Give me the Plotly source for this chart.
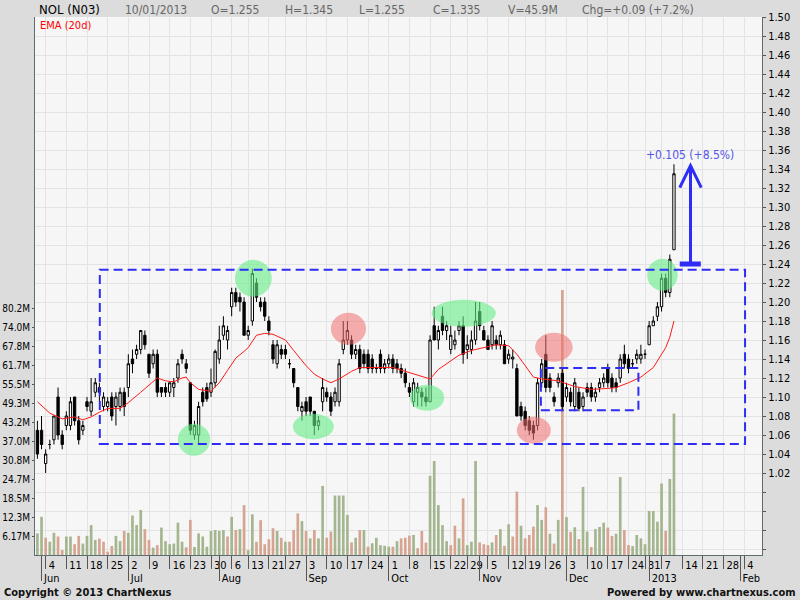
import pandas as pd
import plotly.graph_objects as go

# ---------------- data ----------------
ticker = "NOL (N03)"
first_day = "2012-05-31"
axis_end = "2013-02-08"
holidays = ["2012-08-09", "2012-08-20", "2012-10-26", "2012-11-13",
            "2012-12-25", "2013-01-01"]

opens = [
    1.065, 1.065, 1.030, 1.050, 1.055, 1.100, 1.060, 1.070, 1.070, 1.100,
    1.075, 1.065, 1.095, 1.085, 1.105, 1.110, 1.090, 1.090, 1.100, 1.090,
    1.090, 1.105, 1.110, 1.140, 1.145, 1.150, 1.165, 1.145, 1.135, 1.145,
    1.110, 1.110, 1.105, 1.110, 1.120, 1.145, 1.135, 1.115, 1.060, 1.060,
    1.105, 1.110, 1.105, 1.115, 1.140, 1.165, 1.160, 1.195, 1.210, 1.205,
    1.200, 1.165, 1.180, 1.220, 1.200, 1.200, 1.180, 1.155, 1.135, 1.150,
    1.150, 1.135, 1.130, 1.110, 1.085, 1.095, 1.100, 1.085, 1.070, 1.095,
    1.105, 1.100, 1.095, 1.095, 1.150, 1.160, 1.160, 1.145, 1.150, 1.145,
    1.145, 1.140, 1.130, 1.145, 1.130, 1.135, 1.140, 1.135, 1.130, 1.125,
    1.110, 1.095, 1.105, 1.105, 1.100, 1.095, 1.175, 1.160, 1.185, 1.170,
    1.150, 1.155, 1.170, 1.175, 1.150, 1.150, 1.160, 1.190, 1.170, 1.160,
    1.155, 1.160, 1.155, 1.155, 1.140, 1.140, 1.130, 1.090, 1.085, 1.075,
    1.070, 1.070, 1.115, 1.145, 1.120, 1.100, 1.115, 1.125, 1.100, 1.105,
    1.090, 1.105, 1.090, 1.110, 1.110, 1.100, 1.110, 1.115, 1.130, 1.120,
    1.115, 1.120, 1.145, 1.140, 1.135, 1.140, 1.140, 1.145, 1.155, 1.175,
    1.185, 1.195, 1.225, 1.210, 1.255,
]
highs = [
    1.075, 1.080, 1.045, 1.055, 1.080, 1.110, 1.065, 1.085, 1.100, 1.100,
    1.080, 1.075, 1.100, 1.120, 1.120, 1.115, 1.105, 1.100, 1.105, 1.105,
    1.110, 1.110, 1.145, 1.150, 1.155, 1.170, 1.170, 1.145, 1.150, 1.150,
    1.110, 1.115, 1.115, 1.120, 1.140, 1.150, 1.140, 1.115, 1.075, 1.095,
    1.110, 1.115, 1.130, 1.150, 1.175, 1.185, 1.175, 1.215, 1.215, 1.210,
    1.205, 1.175, 1.235, 1.225, 1.205, 1.205, 1.185, 1.160, 1.160, 1.155,
    1.155, 1.140, 1.130, 1.110, 1.095, 1.100, 1.100, 1.085, 1.080, 1.120,
    1.110, 1.105, 1.110, 1.140, 1.180, 1.180, 1.165, 1.155, 1.155, 1.150,
    1.150, 1.145, 1.135, 1.150, 1.140, 1.145, 1.145, 1.140, 1.135, 1.130,
    1.115, 1.120, 1.115, 1.110, 1.110, 1.165, 1.195, 1.175, 1.195, 1.180,
    1.175, 1.170, 1.180, 1.185, 1.165, 1.170, 1.200, 1.200, 1.175, 1.165,
    1.180, 1.165, 1.170, 1.160, 1.150, 1.150, 1.135, 1.095, 1.090, 1.080,
    1.075, 1.120, 1.140, 1.165, 1.125, 1.105, 1.125, 1.130, 1.115, 1.110,
    1.120, 1.110, 1.105, 1.115, 1.115, 1.110, 1.120, 1.125, 1.135, 1.125,
    1.120, 1.145, 1.155, 1.145, 1.140, 1.150, 1.155, 1.150, 1.180, 1.185,
    1.200, 1.230, 1.230, 1.250, 1.345,
]
lows = [
    1.035, 1.045, 1.020, 1.045, 1.050, 1.055, 1.045, 1.065, 1.065, 1.070,
    1.050, 1.060, 1.085, 1.080, 1.100, 1.095, 1.085, 1.085, 1.075, 1.070,
    1.085, 1.080, 1.100, 1.125, 1.140, 1.145, 1.150, 1.120, 1.130, 1.100,
    1.100, 1.100, 1.100, 1.100, 1.115, 1.135, 1.125, 1.060, 1.055, 1.050,
    1.090, 1.095, 1.100, 1.110, 1.135, 1.160, 1.150, 1.185, 1.195, 1.190,
    1.165, 1.160, 1.175, 1.200, 1.190, 1.180, 1.165, 1.135, 1.130, 1.140,
    1.140, 1.130, 1.110, 1.085, 1.075, 1.080, 1.080, 1.060, 1.065, 1.085,
    1.095, 1.080, 1.090, 1.090, 1.145, 1.155, 1.140, 1.140, 1.125, 1.130,
    1.125, 1.125, 1.125, 1.125, 1.125, 1.130, 1.125, 1.125, 1.120, 1.110,
    1.100, 1.090, 1.090, 1.090, 1.090, 1.095, 1.160, 1.150, 1.165, 1.160,
    1.145, 1.150, 1.165, 1.135, 1.140, 1.145, 1.155, 1.170, 1.160, 1.150,
    1.150, 1.150, 1.150, 1.135, 1.135, 1.130, 1.080, 1.075, 1.065, 1.060,
    1.055, 1.065, 1.110, 1.105, 1.105, 1.090, 1.110, 1.085, 1.095, 1.090,
    1.085, 1.085, 1.085, 1.100, 1.095, 1.095, 1.105, 1.110, 1.110, 1.105,
    1.105, 1.115, 1.130, 1.125, 1.130, 1.135, 1.135, 1.140, 1.155, 1.175,
    1.180, 1.190, 1.205, 1.205, 1.255,
]
closes = [
    1.040, 1.050, 1.040, 1.050, 1.080, 1.060, 1.050, 1.080, 1.095, 1.075,
    1.055, 1.070, 1.090, 1.095, 1.115, 1.105, 1.100, 1.095, 1.080, 1.100,
    1.105, 1.090, 1.135, 1.135, 1.150, 1.170, 1.155, 1.125, 1.145, 1.105,
    1.105, 1.105, 1.115, 1.115, 1.135, 1.140, 1.130, 1.065, 1.070, 1.090,
    1.095, 1.098, 1.115, 1.148, 1.160, 1.175, 1.170, 1.210, 1.200, 1.200,
    1.165, 1.170, 1.230, 1.205, 1.195, 1.185, 1.170, 1.140, 1.155, 1.145,
    1.145, 1.135, 1.115, 1.090, 1.090, 1.085, 1.085, 1.070, 1.075, 1.110,
    1.100, 1.085, 1.105, 1.135, 1.160, 1.170, 1.145, 1.150, 1.130, 1.135,
    1.130, 1.130, 1.130, 1.130, 1.135, 1.140, 1.130, 1.130, 1.125, 1.115,
    1.105, 1.115, 1.110, 1.100, 1.095, 1.160, 1.160, 1.170, 1.170, 1.175,
    1.165, 1.160, 1.175, 1.145, 1.155, 1.160, 1.180, 1.175, 1.160, 1.150,
    1.175, 1.155, 1.165, 1.135, 1.145, 1.142, 1.080, 1.080, 1.070, 1.065,
    1.062, 1.115, 1.135, 1.110, 1.110, 1.095, 1.120, 1.090, 1.110, 1.095,
    1.115, 1.088, 1.100, 1.105, 1.100, 1.105, 1.115, 1.120, 1.115, 1.110,
    1.110, 1.140, 1.135, 1.130, 1.135, 1.145, 1.145, 1.145, 1.175, 1.180,
    1.195, 1.225, 1.210, 1.245, 1.335,
]
volumes_m = [
    7.0, 12.4, 5.6, 4.3, 7.2, 6.0, 1.6, 6.0, 6.0, 3.5,
    6.2, 3.7, 6.2, 9.7, 4.9, 5.3, 4.3, 1.1, 2.9, 6.2,
    4.5, 7.8, 7.2, 12.8, 9.7, 14.6, 8.4, 4.9, 2.4, 3.2,
    8.9, 4.5, 3.5, 3.7, 10.5, 4.3, 2.5, 11.4, 2.6, 7.0,
    6.0, 2.7, 7.8, 8.1, 7.8, 8.1, 6.0, 12.4, 8.1, 8.4,
    16.2, 1.6, 13.2, 4.3, 11.3, 3.5, 5.1, 8.7, 7.8, 5.6,
    4.3, 4.3, 8.1, 13.5, 11.0, 7.8, 5.4, 8.1, 5.4, 22.4,
    5.6, 7.6, 19.3, 19.3, 19.3, 13.0, 4.1, 5.6, 8.1, 8.1,
    2.7, 3.8, 5.6, 3.2, 3.0, 2.7, 2.7, 4.5, 5.4, 5.6,
    6.3, 6.5, 2.2, 7.8, 4.0, 25.7, 30.5, 16.2, 9.7, 4.5,
    3.2, 9.5, 5.4, 18.4, 3.2, 4.3, 30.5, 4.1, 3.5, 3.2,
    4.1, 6.5, 8.4, 3.0, 10.0, 6.0, 20.6, 9.5, 5.4, 6.5,
    9.2, 16.2, 11.4, 15.5, 6.9, 3.7, 11.4, 86.0, 12.3, 7.5,
    9.0, 5.2, 22.1, 7.6, 2.6, 8.4, 9.1, 10.5, 8.9, 6.2,
    6.9, 25.3, 8.1, 3.2, 2.9, 6.5, 5.4, 3.5, 14.3, 14.3,
    10.8, 23.2, 7.8, 24.7, 45.9,
]

# EMA(20) at these trading-day positions
ema_day = [0, 3, 6, 9, 11, 13, 15, 17, 20, 22,
           25, 27, 29, 31, 33, 35, 36, 37, 39, 42,
           44, 46, 48, 50, 51, 53, 55, 57, 60, 62,
           65, 67, 69, 71, 73, 76, 78, 82, 86, 89,
           92, 95, 97, 100, 102, 105, 108, 111, 114, 116,
           118, 120, 122, 126, 130, 134, 138, 140, 143, 146,
           149, 151, 152, 153, 154]
ema_val = [1.095, 1.083, 1.077, 1.079, 1.076, 1.079, 1.084, 1.088, 1.088, 1.094,
           1.105, 1.112, 1.120, 1.117, 1.116, 1.120, 1.121, 1.115, 1.108, 1.106,
           1.115, 1.128, 1.141, 1.148, 1.152, 1.165, 1.167, 1.166, 1.160, 1.149,
           1.133, 1.124, 1.119, 1.115, 1.119, 1.127, 1.131, 1.131, 1.131, 1.127,
           1.123, 1.119, 1.129, 1.138, 1.144, 1.149, 1.152, 1.155, 1.154, 1.145,
           1.133, 1.121, 1.119, 1.117, 1.111, 1.108, 1.109, 1.110, 1.115, 1.121,
           1.131, 1.145, 1.152, 1.163, 1.180]

breakout_level = 1.24

# ---------------- calendar ----------------
days = pd.bdate_range(first_day, axis_end)
days = days[~days.isin(pd.to_datetime(holidays))]
n = len(closes)
xs = list(range(n))

pos = pd.Series(range(len(days)), index=days)
wk = pos.groupby(days.to_period("W")).first()
week_idx = [int(i) for i in wk.values[1:]]          # first (partial) week has no label
week_txt = [str(days[i].day) for i in week_idx]

mo = pos.groupby(days.to_period("M")).first()
month_idx = [int(i) for i in mo.values[1:]]         # data starts on the last days of May
month_txt = [str(days[i].year) if days[i].month == 1 else days[i].strftime("%b")
             for i in month_idx]

# ---------------- styling ----------------
FONT = "DejaVu Sans Condensed, Liberation Sans Narrow, DejaVu Sans, sans-serif"
PL, PR, PT, PB = 35, 762, 17, 555
X_RANGE = [-0.58, 175.3]
P_RANGE = [1.50 - (PB - PT) / 950.0, 1.50]
VOL_STEP = 74.0 / 12
V_RANGE = [0, VOL_STEP * (PB - PT) / 19.0]
BLUE = "rgb(45,45,245)"


def px(x):
    return (x - PL) / (PR - PL)


def py(y):
    return (PB - y) / (PB - PT)


vol_colors = ["#a4b690"] + ["#a4b690" if closes[i] >= closes[i - 1] else "#d5a592"
                            for i in range(1, n)]

fig = go.Figure()

fig.add_trace(go.Bar(
    x=xs, y=volumes_m, marker_color=vol_colors,
    marker_line_width=0, width=0.65, xaxis="x", yaxis="y", hoverinfo="skip"
))

fig.add_trace(go.Candlestick(
    x=xs, open=opens, high=highs, low=lows, close=closes,
    xaxis="x", yaxis="y2",
    increasing=dict(fillcolor="white", line=dict(color="black", width=1)),
    decreasing=dict(fillcolor="black", line=dict(color="black", width=1)),
    whiskerwidth=0, hoverinfo="skip"
))

fig.add_trace(go.Scatter(
    x=ema_day, y=ema_val, mode="lines", line=dict(color="#ff1a1a", width=1),
    xaxis="x", yaxis="y2", hoverinfo="skip"
))

# empty trace so the month axis gets drawn
fig.add_trace(go.Scatter(x=[None], y=[None], xaxis="x2", yaxis="y2",
                         showlegend=False, hoverinfo="skip"))

# ---------------- shapes ----------------
shapes = []
green = "rgba(100,238,135,0.6)"
red = "rgba(242,110,110,0.55)"
for x0, x1, y0, y1, c in [
    (34.0, 41.8, 1.0382, 1.0718, green),
    (47.8, 56.7, 1.2056, 1.2445, green),
    (61.8, 71.7, 1.0555, 1.0824, green),
    (71.0, 79.5, 1.1550, 1.1887, red),
    (90.1, 98.4, 1.0855, 1.1129, green),
    (95.4, 110.9, 1.1740, 1.2024, green),
    (120.4, 129.5, 1.1371, 1.1677, red),
    (116.0, 124.2, 1.0508, 1.0792, red),
    (147.5, 154.9, 1.2119, 1.2455, green),
]:
    shapes.append(dict(type="circle", xref="x", yref="y2", x0=x0, x1=x1, y0=y0, y1=y1,
                       fillcolor=c, line=dict(width=0), layer="above"))

for x0, x1, y0, y1 in [(15.1, 171.2, 1.0505, 1.234), (121.8, 145.4, 1.0860, 1.1305)]:
    shapes.append(dict(type="rect", xref="x", yref="y2", x0=x0, x1=x1, y0=y0, y1=y1,
                       line=dict(color=BLUE, width=2, dash="9px,5px"), layer="above"))

ax = 158.0
shapes.append(dict(type="line", xref="x", yref="y2", x0=ax, x1=ax,
                   y0=breakout_level, y1=highs[-1] - 0.002,
                   line=dict(color=BLUE, width=3)))
shapes.append(dict(type="path", xref="x", yref="y2",
                   path=f"M 155.4,1.3203 L {ax},{highs[-1] - 0.0015} L 160.6,1.3203",
                   line=dict(color=BLUE, width=3)))
shapes.append(dict(type="line", xref="x", yref="y2", x0=155.4, x1=160.5,
                   y0=breakout_level, y1=breakout_level,
                   line=dict(color=BLUE, width=5)))

# ---------------- annotations ----------------
gain = highs[-1] - breakout_level
chg = closes[-1] - closes[-2]
header = [
    (37, ticker, "black", 13),
    (123, days[n - 1].strftime("%d/%m/%Y"), "#666666", 12),
    (209, f"O={opens[-1]:.3f}", "#666666", 12),
    (283, f"H={highs[-1]:.3f}", "#666666", 12),
    (357, f"L={lows[-1]:.3f}", "#666666", 12),
    (431, f"C={closes[-1]:.3f}", "#666666", 12),
    (506, f"V={volumes_m[-1]:.1f}M", "#666666", 12),
    (580, f"Chg={chg:+.2f} ({chg / closes[-2] * 100:+.1f}%)", "#666666", 12),
]
annotations = [dict(xref="paper", yref="paper", x=px(x), y=py(10), text=t,
                    showarrow=False, xanchor="left", yanchor="middle",
                    font=dict(family=FONT, size=s, color=c))
               for x, t, c, s in header]
annotations += [
    dict(xref="paper", yref="paper", x=px(38), y=py(25), text="EMA (20d)",
         showarrow=False, xanchor="left", yanchor="middle",
         font=dict(family=FONT, size=11, color="#ff0000")),
    dict(xref="x", yref="y2", x=ax, y=1.355,
         text=f"+{gain:.3f} (+{gain / breakout_level * 100:.1f}%)",
         showarrow=False, xanchor="center", yanchor="middle",
         font=dict(family=FONT, size=12, color="rgb(85,85,235)")),
    dict(xref="paper", yref="paper", x=px(2), y=py(592),
         text="<b>Copyright © 2013 ChartNexus</b>", showarrow=False,
         xanchor="left", yanchor="middle", font=dict(family=FONT, size=11, color="#111")),
    dict(xref="paper", yref="paper", x=px(798), y=py(592),
         text="<b>Powered by www.chartnexus.com</b>", showarrow=False,
         xanchor="right", yanchor="middle", font=dict(family=FONT, size=11, color="#111")),
]

price_ticks = [round(0.94 + 0.02 * k, 2) for k in range(29)]
price_txt = [f"{p:.2f}" if p >= 1.02 else "" for p in price_ticks]
vol_ticks = [VOL_STEP * k for k in range(1, 14)]
vol_txt = [f"{v:#.3g}M" for v in vol_ticks]

tickfont = dict(family=FONT, size=11, color="black")
axis_line = "#5d6e6e"

fig.update_layout(
    width=800, height=600,
    margin=dict(l=PL, r=800 - PR, t=PT, b=600 - PB, autoexpand=False),
    paper_bgcolor="#dcdcdc", plot_bgcolor="#f6f6f6",
    showlegend=False, boxgap=0.2,
    xaxis=dict(range=X_RANGE, tickvals=week_idx, ticktext=week_txt, tickangle=0,
               ticks="outside", ticklen=13, tickcolor="#555555", tickwidth=1,
               ticklabelposition="outside right", ticklabelstandoff=0,
               ticklabelshift=2, automargin=False,
               showgrid=True, gridcolor="#e3e3e3", zeroline=False,
               showline=True, linecolor=axis_line, tickfont=tickfont,
               rangeslider=dict(visible=False)),
    xaxis2=dict(range=X_RANGE, overlaying="x", side="bottom", anchor="y",
                tickvals=month_idx, ticktext=month_txt, tickangle=0,
                ticks="outside", ticklen=25, tickcolor="#555555", tickwidth=1,
                ticklabelposition="outside right", ticklabelstandoff=13,
                ticklabelshift=2, automargin=False,
                showgrid=False, zeroline=False, showline=False, tickfont=tickfont),
    yaxis=dict(range=V_RANGE, side="left", tickvals=vol_ticks, ticktext=vol_txt,
               ticks="outside", ticklen=2, tickcolor="#555555", automargin=False,
               showgrid=False, zeroline=False, showline=True, linecolor=axis_line,
               tickfont=dict(family=FONT, size=10, color="black")),
    yaxis2=dict(range=P_RANGE, overlaying="y", side="right",
                tickvals=price_ticks, ticktext=price_txt, automargin=False,
                ticks="outside", ticklen=3, tickcolor="#555555",
                showgrid=True, gridcolor="#e3e3e3", zeroline=False,
                showline=True, linecolor=axis_line, tickfont=tickfont),
    shapes=shapes,
    annotations=annotations,
)

fig.write_html("out.html", config={"displayModeBar": False},
               post_script="document.body.style.margin='0px';")
